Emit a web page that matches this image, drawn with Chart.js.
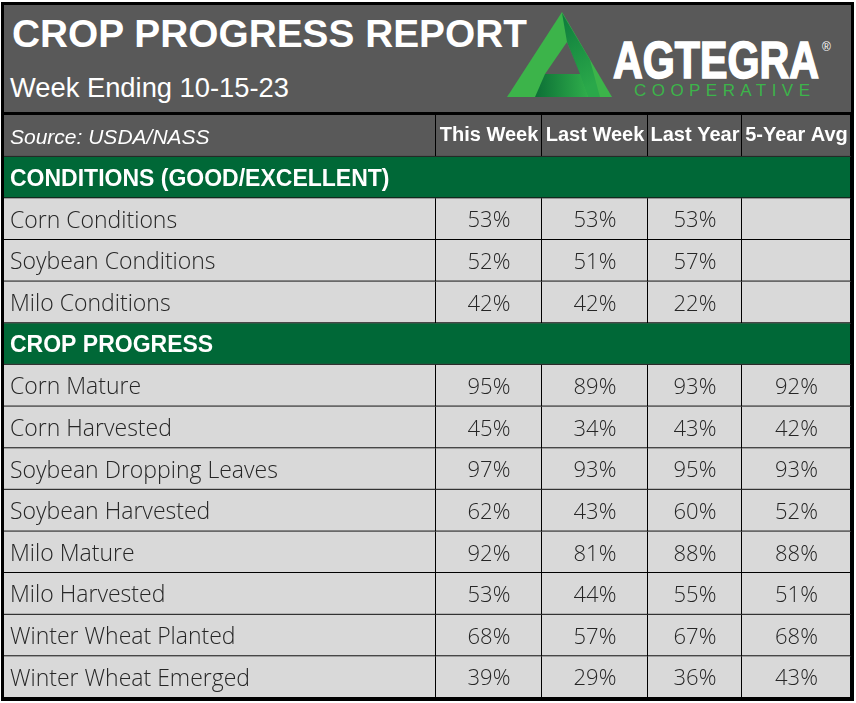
<!DOCTYPE html>
<html>
<head>
<meta charset="utf-8">
<script src="https://cdn.jsdelivr.net/npm/chart.js@4.4.0/dist/chart.umd.min.js"></script>
<style>
  html, body { margin: 0; padding: 0; background: #fff; }
  body { width: 856px; height: 703px; overflow: hidden; position: relative; }
  #frame {
    position: absolute; left: 1px; top: 2px;
    width: 847px; height: 693px;
    border: 3px solid #000; background: #595959;
  }
  #head { height: 107px; border-bottom: 3px solid #000; position: relative; }
  #head svg { position: absolute; left: 0; top: 0; }
  #table { position: relative; width: 847px; height: 583px; }
</style>
</head>
<body>
<div id="frame">
  <div id="head">
    <svg width="847" height="107" viewBox="0 0 847 107">
      <defs>
        <linearGradient id="leg" x1="0" y1="0" x2="0.3" y2="1">
          <stop offset="0" stop-color="#0d7a3c"/>
          <stop offset="1" stop-color="#2aa84a"/>
        </linearGradient>
        <linearGradient id="foot" x1="0" y1="0" x2="1" y2="0">
          <stop offset="0" stop-color="#0c6f36"/>
          <stop offset="1" stop-color="#2fae4b"/>
        </linearGradient>
      </defs>
      <text x="8" y="42" fill="#fff" font-family="Liberation Sans, Arial" font-weight="bold" font-size="38" textLength="515" lengthAdjust="spacingAndGlyphs">CROP PROGRESS REPORT</text>
      <text x="6" y="92" fill="#fff" font-family="Liberation Sans, Arial" font-size="27" textLength="279" lengthAdjust="spacingAndGlyphs">Week Ending 10-15-23</text>
      <!-- logo -->
      <polygon points="558,7 503,92 608,92" fill="#3cb44a"/>
      <polygon points="558,8 586,55 596,92 584,92 563,37" fill="url(#leg)"/>
      <polygon points="563,37 541,69 576,69" fill="#595959"/>
      <polygon points="541,69 576,69 584,92 531,92" fill="url(#foot)"/>
      <text x="609" y="73" fill="#fff" stroke="#fff" stroke-width="1.6" font-family="Liberation Sans, Arial" font-weight="bold" font-size="51" textLength="206" lengthAdjust="spacingAndGlyphs">AGTEGRA</text>
      <text x="818" y="46" fill="#fff" font-family="Liberation Sans, Arial" font-size="12">®</text>
      <text x="630" y="91" fill="#3cb44a" font-family="Liberation Sans, Arial" font-size="17" textLength="176" lengthAdjust="spacing">COOPERATIVE</text>
    </svg>
  </div>
  <div id="table"><canvas id="cropChart"></canvas></div>
</div>
<script>
// Données du rapport
const columns = ["This Week", "Last Week", "Last Year", "5-Year Avg"];
const sourceLabel = "Source: USDA/NASS";
const sections = ["CONDITIONS (GOOD/EXCELLENT)", "CROP PROGRESS"];

const conditionLabels = ["Corn Conditions", "Soybean Conditions", "Milo Conditions"];
const condThisWeek = [53, 52, 42];
const condLastWeek = [53, 51, 42];
const condLastYear = [53, 57, 22];
const condFiveYear = [null, null, null];

const progressLabels = [
  "Corn Mature", "Corn Harvested", "Soybean Dropping Leaves", "Soybean Harvested",
  "Milo Mature", "Milo Harvested", "Winter Wheat Planted", "Winter Wheat Emerged"
];
const progThisWeek = [95, 45, 97, 62, 92, 53, 68, 39];
const progLastWeek = [89, 34, 93, 43, 81, 44, 57, 29];
const progLastYear = [93, 43, 95, 60, 88, 55, 67, 36];
const progFiveYear = [92, 42, 93, 52, 88, 51, 68, 43];

// Mise en page du tableau (bords des colonnes, en px)
const colEdges = [0, 432, 538, 644, 738, 847];
const fills = { head: "#595959", section: "#006837", data: "#d9d9d9" };

const rowLabels = [sourceLabel, sections[0], ...conditionLabels, sections[1], ...progressLabels];
const rowKinds = ["head", "section", ...conditionLabels.map(() => "data"), "section", ...progressLabels.map(() => "data")];

const byRow = (cond, prog) => [null, null, ...cond, null, ...prog];
const columnValues = [
  byRow(condThisWeek, progThisWeek),
  byRow(condLastWeek, progLastWeek),
  byRow(condLastYear, progLastYear),
  byRow(condFiveYear, progFiveYear)
];

// Une série par colonne : chaque cellule est une barre flottante
const datasets = colEdges.slice(0, -1).map((start, c) => ({
  data: rowKinds.map(kind => {
    if (kind === "section") return c === 0 ? [0, colEdges[colEdges.length - 1]] : null;
    return [start, colEdges[c + 1]];
  }),
  backgroundColor: ctx => fills[rowKinds[ctx.dataIndex]],
  borderColor: "#000",
  borderWidth: { top: 0, left: 0, right: 1, bottom: 1 },
  borderSkipped: false,
  inflateAmount: 0,
  grouped: false,
  barPercentage: 1,
  categoryPercentage: 1
}));

const sansBold = "'Liberation Sans', Arial, sans-serif";
const bodyFont = "'Open Sans', sans-serif";

// Texte des cellules (en-têtes + valeurs)
const cellText = {
  id: "cellText",
  afterDatasetsDraw(chart) {
    const { ctx, scales: { x, y } } = chart;
    ctx.save();
    ctx.textAlign = "center";
    ctx.textBaseline = "middle";
    columns.forEach((name, c) => {
      const cx = x.getPixelForValue((colEdges[c + 1] + colEdges[c + 2]) / 2);
      ctx.font = "bold 20px " + sansBold;
      ctx.fillStyle = "#fff";
      ctx.fillText(name, cx, y.getPixelForValue(0));
      ctx.font = "300 22px " + bodyFont;
      ctx.fillStyle = "#262626";
      columnValues[c].forEach((v, i) => {
        if (v !== null) ctx.fillText(v + "%", cx, y.getPixelForValue(i) + 2);
      });
    });
    ctx.restore();
  }
};

new Chart(document.getElementById("cropChart"), {
  type: "bar",
  data: { labels: rowLabels, datasets },
  options: {
    indexAxis: "y",
    responsive: true,
    maintainAspectRatio: false,
    animation: false,
    layout: { padding: 0 },
    plugins: { legend: { display: false }, tooltip: { enabled: false } },
    scales: {
      x: { type: "linear", min: 0, max: colEdges[colEdges.length - 1], display: false },
      y: {
        type: "category",
        offset: true,
        grid: { display: false, drawTicks: false },
        border: { display: false },
        ticks: {
          mirror: true,
          padding: 6,
          labelOffset: 2,
          autoSkip: false,
          z: 1,
          color: ctx => rowKinds[ctx.index] === "data" ? "#262626" : "#fff",
          font: ctx => {
            const kind = rowKinds[ctx.index];
            if (kind === "head") return { family: sansBold, size: 21, style: "italic" };
            if (kind === "section") return { family: sansBold, size: 23, weight: "bold" };
            return { family: bodyFont, size: 23, weight: "300" };
          }
        },
        afterFit(scale) {
          scale.width = 0;
          scale.paddingTop = 0;
          scale.paddingBottom = 0;
        }
      }
    }
  },
  plugins: [cellText]
});
</script>
</body>
</html>
